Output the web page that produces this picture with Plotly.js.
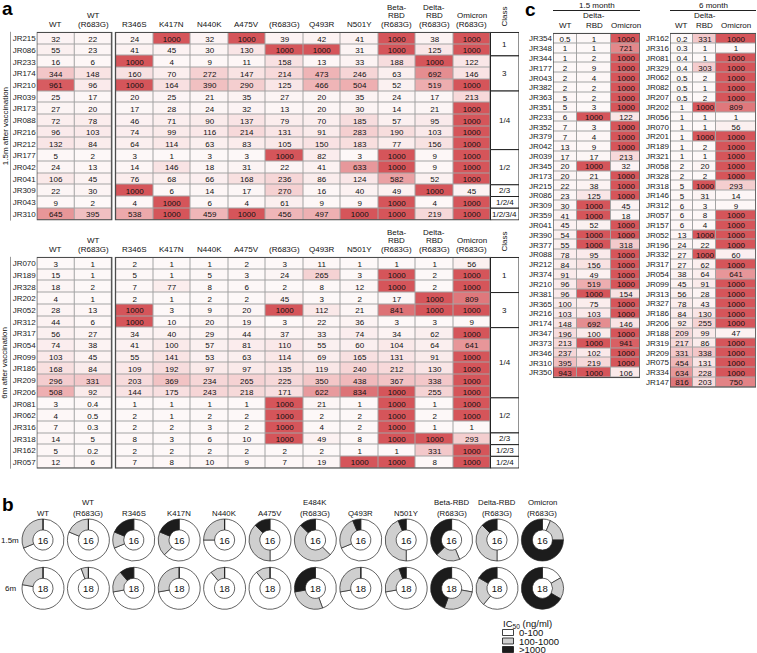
<!DOCTYPE html>
<html>
<head>
<meta charset="utf-8">
<script src="https://cdn.plot.ly/plotly-3.0.1.min.js"></script>
<style>body{margin:0;background:#fff}#chart{width:757px;height:653px}</style>
</head>
<body>
<div id="chart"></div>
<script>
// ---- panel a : IC50 (ng/ml) of each mAb against the mutant pseudoviruses
const variantHeads = ['WT', 'WT<br>(R683G)', 'R346S', 'K417N', 'N440K', 'A475V', '(R683G)', 'Q493R', 'N501Y',
  'Beta-<br>RBD<br>(R683G)', 'Delta-<br>RBD<br>(R683G)', 'Omicron<br>(R683G)'];

const rows15 = ['JR215', 'JR086', 'JR233', 'JR174', 'JR210', 'JR039', 'JR173', 'JR088', 'JR216', 'JR212',
  'JR177', 'JR042', 'JR041', 'JR309', 'JR043', 'JR310'];
const ic15 = [
  [32, 22, 24, 1000, 32, 1000, 39, 42, 41, 1000, 38, 1000],
  [55, 23, 41, 45, 30, 130, 1000, 1000, 31, 1000, 125, 1000],
  [16, 6, 1000, 4, 9, 11, 158, 13, 33, 188, 1000, 122],
  [344, 148, 160, 70, 272, 147, 214, 473, 246, 63, 692, 146],
  [961, 96, 1000, 164, 390, 290, 125, 466, 504, 52, 519, 1000],
  [25, 17, 20, 25, 21, 35, 27, 20, 35, 24, 17, 213],
  [27, 20, 17, 28, 24, 32, 13, 20, 30, 14, 21, 1000],
  [72, 78, 46, 71, 90, 137, 79, 70, 185, 57, 95, 1000],
  [96, 103, 74, 99, 116, 214, 131, 91, 283, 190, 103, 1000],
  [132, 84, 64, 114, 63, 83, 105, 150, 183, 77, 156, 1000],
  [5, 2, 3, 1, 3, 3, 1000, 82, 3, 1000, 9, 1000],
  [24, 13, 14, 146, 18, 31, 22, 41, 633, 1000, 9, 1000],
  [106, 45, 76, 68, 66, 168, 236, 86, 124, 582, 52, 1000],
  [22, 30, 1000, 6, 14, 17, 270, 16, 40, 49, 1000, 45],
  [9, 2, 4, 1000, 6, 4, 61, 9, 9, 1000, 4, 1000],
  [645, 395, 538, 1000, 459, 1000, 456, 497, 1000, 1000, 219, 1000]
];
const class15 = ['1', '1', '3', '3', '3', '1/4', '1/4', '1/4', '1/4', '1/4', '1/2', '1/2', '1/2', '2/3', '1/2/4', '1/2/3/4'];

const rows6 = ['JR070', 'JR189', 'JR328', 'JR202', 'JR052', 'JR312', 'JR317', 'JR054', 'JR099', 'JR186',
  'JR209', 'JR206', 'JR081', 'JR062', 'JR316', 'JR318', 'JR162', 'JR057'];
const ic6 = [
  [3, 1, 2, 1, 1, 2, 3, 11, 1, 1, 1, 56],
  [15, 1, 5, 1, 5, 3, 24, 265, 3, 1000, 2, 1000],
  [18, 2, 7, 77, 8, 6, 2, 8, 12, 1000, 2, 1000],
  [4, 1, 2, 1, 2, 2, 45, 3, 2, 17, 1000, 809],
  [28, 13, 1000, 3, 9, 20, 1000, 112, 21, 841, 1000, 1000],
  [44, 6, 1000, 10, 20, 19, 3, 22, 36, 3, 3, 9],
  [56, 27, 34, 40, 29, 44, 37, 33, 74, 34, 62, 1000],
  [74, 38, 41, 100, 57, 81, 110, 55, 60, 104, 64, 641],
  [103, 45, 55, 141, 53, 63, 114, 69, 165, 131, 91, 1000],
  [168, 84, 109, 192, 97, 97, 135, 119, 240, 212, 130, 1000],
  [296, 331, 203, 369, 234, 265, 225, 350, 438, 367, 338, 1000],
  [508, 92, 144, 175, 243, 218, 171, 622, 834, 1000, 255, 1000],
  [3, 0.4, 1, 1, 1, 1, 1000, 21, 1, 1000, 1, 1000],
  [4, 0.5, 2, 1, 2, 2, 1000, 2, 2, 1000, 2, 1000],
  [7, 0.3, 2, 2, 3, 2, 1000, 4, 2, 1000, 1, 1],
  [14, 5, 8, 3, 6, 10, 1000, 49, 8, 1000, 1000, 293],
  [5, 0.2, 2, 2, 2, 2, 2, 2, 1, 1, 331, 1000],
  [12, 6, 7, 8, 10, 9, 7, 19, 1000, 1000, 8, 1000]
];
const class6 = ['1', '1', '1', '3', '3', '3', '1/4', '1/4', '1/4', '1/4', '1/4', '1/4', '1/2', '1/2', '1/2', '2/3', '1/2/3', '1/2/4'];

// ---- panel b : donut headers and IC50 bins
const bHeads = ['WT', 'WT<br>(R683G)', 'R346S', 'K417N', 'N440K', 'A475V', 'E484K<br>(R683G)', 'Q493R', 'N501Y',
  'Beta-RBD<br>(R683G)', 'Delta-RBD<br>(R683G)', 'Omicron<br>(R683G)'];
const bins = ['0-100', '100-1000', '>1000'];
const binColors = ['#ffffff', '#cfcfcf', '#1c1c1c'];

// ---- panel c : WT / Delta-RBD / Omicron
const cHeads = ['WT', 'Delta-<br>RBD', 'Omicron'];
const rowsC15 = ['JR354', 'JR348', 'JR344', 'JR177', 'JR043', 'JR382', 'JR363', 'JR351', 'JR233', 'JR352',
  'JR379', 'JR042', 'JR039', 'JR345', 'JR173', 'JR215', 'JR086', 'JR309', 'JR359', 'JR041', 'JR390', 'JR377',
  'JR088', 'JR212', 'JR374', 'JR210', 'JR381', 'JR365', 'JR216', 'JR174', 'JR347', 'JR373', 'JR346', 'JR310', 'JR350'];
const icC15 = [
  [0.5, 1, 1000], [1, 1, 721], [1, 2, 1000], [2, 9, 1000], [2, 4, 1000], [2, 2, 1000], [5, 2, 1000], [5, 3, 1000],
  [6, 1000, 122], [7, 3, 1000], [7, 4, 1000], [13, 9, 1000], [17, 17, 213], [20, 1000, 32], [20, 21, 1000],
  [22, 38, 1000], [23, 125, 1000], [30, 1000, 45], [41, 1000, 18], [45, 52, 1000], [54, 1000, 1000], [55, 1000, 318],
  [78, 95, 1000], [84, 156, 1000], [91, 49, 1000], [96, 519, 1000], [96, 1000, 154], [100, 75, 1000], [103, 103, 1000],
  [148, 692, 146], [196, 100, 1000], [213, 1000, 941], [237, 102, 1000], [395, 219, 1000], [943, 1000, 106]
];
const rowsC6 = ['JR162', 'JR316', 'JR081', 'JR329', 'JR062', 'JR082', 'JR207', 'JR202', 'JR056', 'JR070', 'JR201',
  'JR189', 'JR321', 'JR058', 'JR328', 'JR318', 'JR146', 'JR312', 'JR057', 'JR157', 'JR052', 'JR196', 'JR332', 'JR317',
  'JR054', 'JR099', 'JR313', 'JR327', 'JR186', 'JR206', 'JR188', 'JR319', 'JR209', 'JR075', 'JR334', 'JR147'];
const icC6 = [
  [0.2, 331, 1000], [0.3, 1, 1], [0.4, 1, 1000], [0.4, 303, 1000], [0.5, 2, 1000], [0.5, 1, 1000], [0.5, 2, 1000],
  [1, 1000, 809], [1, 1, 1], [1, 1, 56], [1, 1000, 1000], [1, 2, 1000], [1, 1, 1000], [2, 20, 1000], [2, 2, 1000],
  [5, 1000, 293], [5, 31, 14], [6, 3, 9], [6, 8, 1000], [6, 4, 1000], [13, 1000, 1000], [24, 22, 1000], [27, 1000, 60],
  [27, 62, 1000], [38, 64, 641], [45, 91, 1000], [56, 28, 1000], [78, 43, 1000], [84, 130, 1000], [92, 255, 1000],
  [209, 99, 47], [217, 86, 1000], [331, 338, 1000], [454, 131, 1000], [634, 228, 1000], [816, 203, 750]
];

// ---- helpers
const W = 757, H = 653;
const FONT = 'Liberation Sans, Arial, sans-serif';
const fx = p => p / W;
const fy = p => 1 - p / H;
const reds = [[0, '#fdf8f8'], [0.5, '#eeb0b2'], [1, '#d5555a']];

const data = [];
const shapes = [];
const annotations = [];

function note(xref, x, yPx, text, size, extra) {
  annotations.push(Object.assign({ xref, yref: 'paper', x, y: fy(yPx), xanchor: 'center', yanchor: 'middle',
    text, showarrow: false, font: { family: FONT, size, color: '#111' } }, extra || {}));
}

// multi-line header, one annotation per line so the leading stays tight
function stacked(xref, x, lastY, text, size, lh) {
  const lines = text.split('<br>');
  lines.forEach((ln, k) => note(xref, x, lastY - (lines.length - 1 - k) * lh, ln, size));
}

function cells(z, x, y, ax) {
  return {
    type: 'heatmap', z: z, x: x, y: y, xaxis: 'x' + ax, yaxis: 'y' + ax,
    text: z.map(r => r.map(String)), texttemplate: '%{text}',
    textfont: { family: FONT, size: 8, color: '#111' },
    colorscale: reds, zmin: 0, zmax: 1000, showscale: false,
    xgap: 1, ygap: 1, hoverinfo: 'skip'
  };
}

function box(ax, x0, x1, y0, y1) {
  // grey grid behind the cells, dark frame on top
  shapes.push({ type: 'rect', xref: 'x' + ax, yref: 'y' + ax, x0, x1, y0, y1, layer: 'below',
    fillcolor: '#a3a3a3', line: { width: 0 } });
  shapes.push({ type: 'rect', xref: 'x' + ax, yref: 'y' + ax, x0, x1, y0, y1,
    fillcolor: 'rgba(0,0,0,0)', line: { color: '#4d4d4d', width: 1.3 } });
}

function runs(arr) {
  const out = [];
  arr.forEach((c, i) => {
    if (i && arr[i - 1] === c) out[out.length - 1].end = i;
    else out.push({ c, start: i, end: i });
  });
  return out;
}

// ---- panel a tables
const colX = variantHeads.map((_, i) => i < 2 ? i : i + 0.1);
const classX0 = 11.6, classX1 = 12.36;

function tableA(rows, ic, classes, ax, top, bottom, label) {
  data.push(cells(ic.map(r => r.slice(0, 2)), colX.slice(0, 2), rows, ax));
  data.push(cells(ic.map(r => r.slice(2)), colX.slice(2), rows, ax));
  const n = rows.length;
  box(ax, -0.5, 1.5, -0.5, n - 0.5);
  box(ax, 1.6, 11.6, -0.5, n - 0.5);
  runs(classes).forEach(g => {
    shapes.push({ type: 'rect', xref: 'x' + ax, yref: 'y' + ax, x0: classX0, x1: classX1,
      y0: g.start - 0.5, y1: g.end + 0.5, fillcolor: '#fff', line: { color: '#222', width: 1 } });
    annotations.push({ xref: 'x' + ax, yref: 'y' + ax, x: (classX0 + classX1) / 2, y: (g.start + g.end) / 2,
      text: g.c, showarrow: false, font: { family: FONT, size: 8, color: '#111' } });
  });
  variantHeads.forEach((h, i) => stacked('x' + ax, colX[i], top - 7, h, 8, 8.9));
  note('x' + ax, (classX0 + classX1) / 2, top - 15, 'Class', 8, { textangle: -90 });
  note('paper', fx(5), (top + bottom) / 2, label, 8, { textangle: -90 });
  shapes.push({ type: 'line', xref: 'paper', yref: 'paper', x0: fx(10.5), x1: fx(10.5), y0: fy(top), y1: fy(bottom),
    line: { color: '#999', width: 1 } });
}

const aTop1 = 31.8, aBot1 = 220.6, aTop2 = 256.8, aBot2 = 468.7;
tableA(rows15, ic15, class15, '', aTop1, aBot1, '1.5m after vaccination');
tableA(rows6, ic6, class6, '2', aTop2, aBot2, '6m after vaccination');

// ---- panel c tables
const cWidthL = [24, 34, 29], cWidthR = [23, 23, 40];
const edges = w => w.reduce((a, v) => a.concat(a[a.length - 1] + v), [0]);

function tableC(rows, ic, widths, ax, left, top, title) {
  const e = edges(widths);
  data.push(cells(ic, e, rows, ax));
  box(ax, 0, e[e.length - 1], -0.5, rows.length - 0.5);
  cHeads.forEach((h, i) => stacked('x' + ax, (e[i] + e[i + 1]) / 2, top - 7.5, h, 8, 9.5));
  const right = left + e[e.length - 1];
  note('paper', fx((left + right) / 2), 5, title, 8);
  shapes.push({ type: 'line', xref: 'paper', yref: 'paper', x0: fx(left), x1: fx(right), y0: fy(10.5), y1: fy(10.5),
    line: { color: '#222', width: 1 } });
}
tableC(rowsC15, icC15, cWidthL, '3', 553, 32.8, '1.5 month');
tableC(rowsC6, icC6, cWidthR, '4', 670, 32.8, '6 month');

// ---- panel b donuts (counts taken from panel a tables)
const bin = v => v >= 1000 ? 2 : v >= 100 ? 1 : 0;
const counts = (ic, j) => {
  const c = [0, 0, 0];
  ic.forEach(r => c[bin(r[j])]++);
  return c;
};
const bRows = [{ ic: ic15, cy: 540, name: '1.5m' }, { ic: ic6, cy: 588.3, name: '6m' }];
const R = 21;
bHeads.forEach((h, j) => {
  const cx = 43 + 45.4 * j;
  bRows.forEach(r => {
    data.push({
      type: 'pie', values: counts(r.ic, j), labels: bins, sort: false, direction: 'clockwise', rotation: 0,
      hole: 0.48, textinfo: 'none', hoverinfo: 'skip', showlegend: false,
      marker: { colors: binColors, line: { color: '#222', width: 0.7 } },
      domain: { x: [fx(cx - R), fx(cx + R)], y: [fy(r.cy + R), fy(r.cy - R)] },
      title: { text: String(r.ic.length), position: 'middle center', font: { family: FONT, size: 9.5, color: '#111' } }
    });
  });
  stacked('paper', fx(cx), 513, h, 7.8, 10.6);
});
bRows.forEach(r => note('paper', fx(10), r.cy, r.name, 8));

// ---- IC50 key for the donuts
note('paper', fx(501), 623.5, 'IC<sub>50</sub> (ng/ml)', 9.5, { xanchor: 'left' });
bins.forEach((b, k) => {
  const y = 632.5 + k * 8.5;
  shapes.push({ type: 'rect', xref: 'paper', yref: 'paper', x0: fx(502.5), x1: fx(513.5), y0: fy(y + 3), y1: fy(y - 3),
    fillcolor: binColors[k], line: { color: '#111', width: 0.8 } });
  note('paper', fx(516.5), y, b, 9.5, { xanchor: 'left' });
});

// ---- panel letters
[['a', 7, 9], ['b', 8, 504], ['c', 530, 9.5]].forEach(([t, x, y]) =>
  note('paper', fx(x), y, '<b>' + t + '</b>', 19, { font: { family: FONT, size: 19, color: '#000' } }));

// ---- axes
const xAx = (l, r, range, anchor) => ({ domain: [fx(l), fx(r)], range, anchor, showgrid: false, zeroline: false,
  showticklabels: false, ticks: '', showline: false, fixedrange: true });
const yAx = (t, b, anchor, rows, size) => ({ domain: [fy(b), fy(t)], anchor, type: 'category', autorange: 'reversed',
  tickmode: 'array', tickvals: rows, ticktext: rows,
  showgrid: false, zeroline: false, ticks: '', showline: false, fixedrange: true, ticklabelstandoff: 0,
  tickfont: { family: FONT, size, color: '#222' } });

const layout = {
  width: W, height: H,
  margin: { l: 0, r: 0, t: 0, b: 0 },
  paper_bgcolor: '#fff', plot_bgcolor: '#fff',
  font: { family: FONT, color: '#111' },
  showlegend: false,
  xaxis: xAx(36.75, 519, [-0.5, classX1], 'y'),
  yaxis: yAx(aTop1, aBot1, 'x', rows15, 8),
  xaxis2: xAx(36.75, 519, [-0.5, classX1], 'y2'),
  yaxis2: yAx(aTop2, aBot2, 'x2', rows6, 8),
  xaxis3: xAx(553, 640, [0, 87], 'y3'),
  yaxis3: yAx(32.8, 378.2, 'x3', rowsC15, 8),
  xaxis4: xAx(670, 756, [0, 86], 'y4'),
  yaxis4: yAx(32.8, 387.8, 'x4', rowsC6, 8),
  shapes, annotations
};

Plotly.newPlot('chart', data, layout, { staticPlot: true, displayModeBar: false });
</script>
</body>
</html>
